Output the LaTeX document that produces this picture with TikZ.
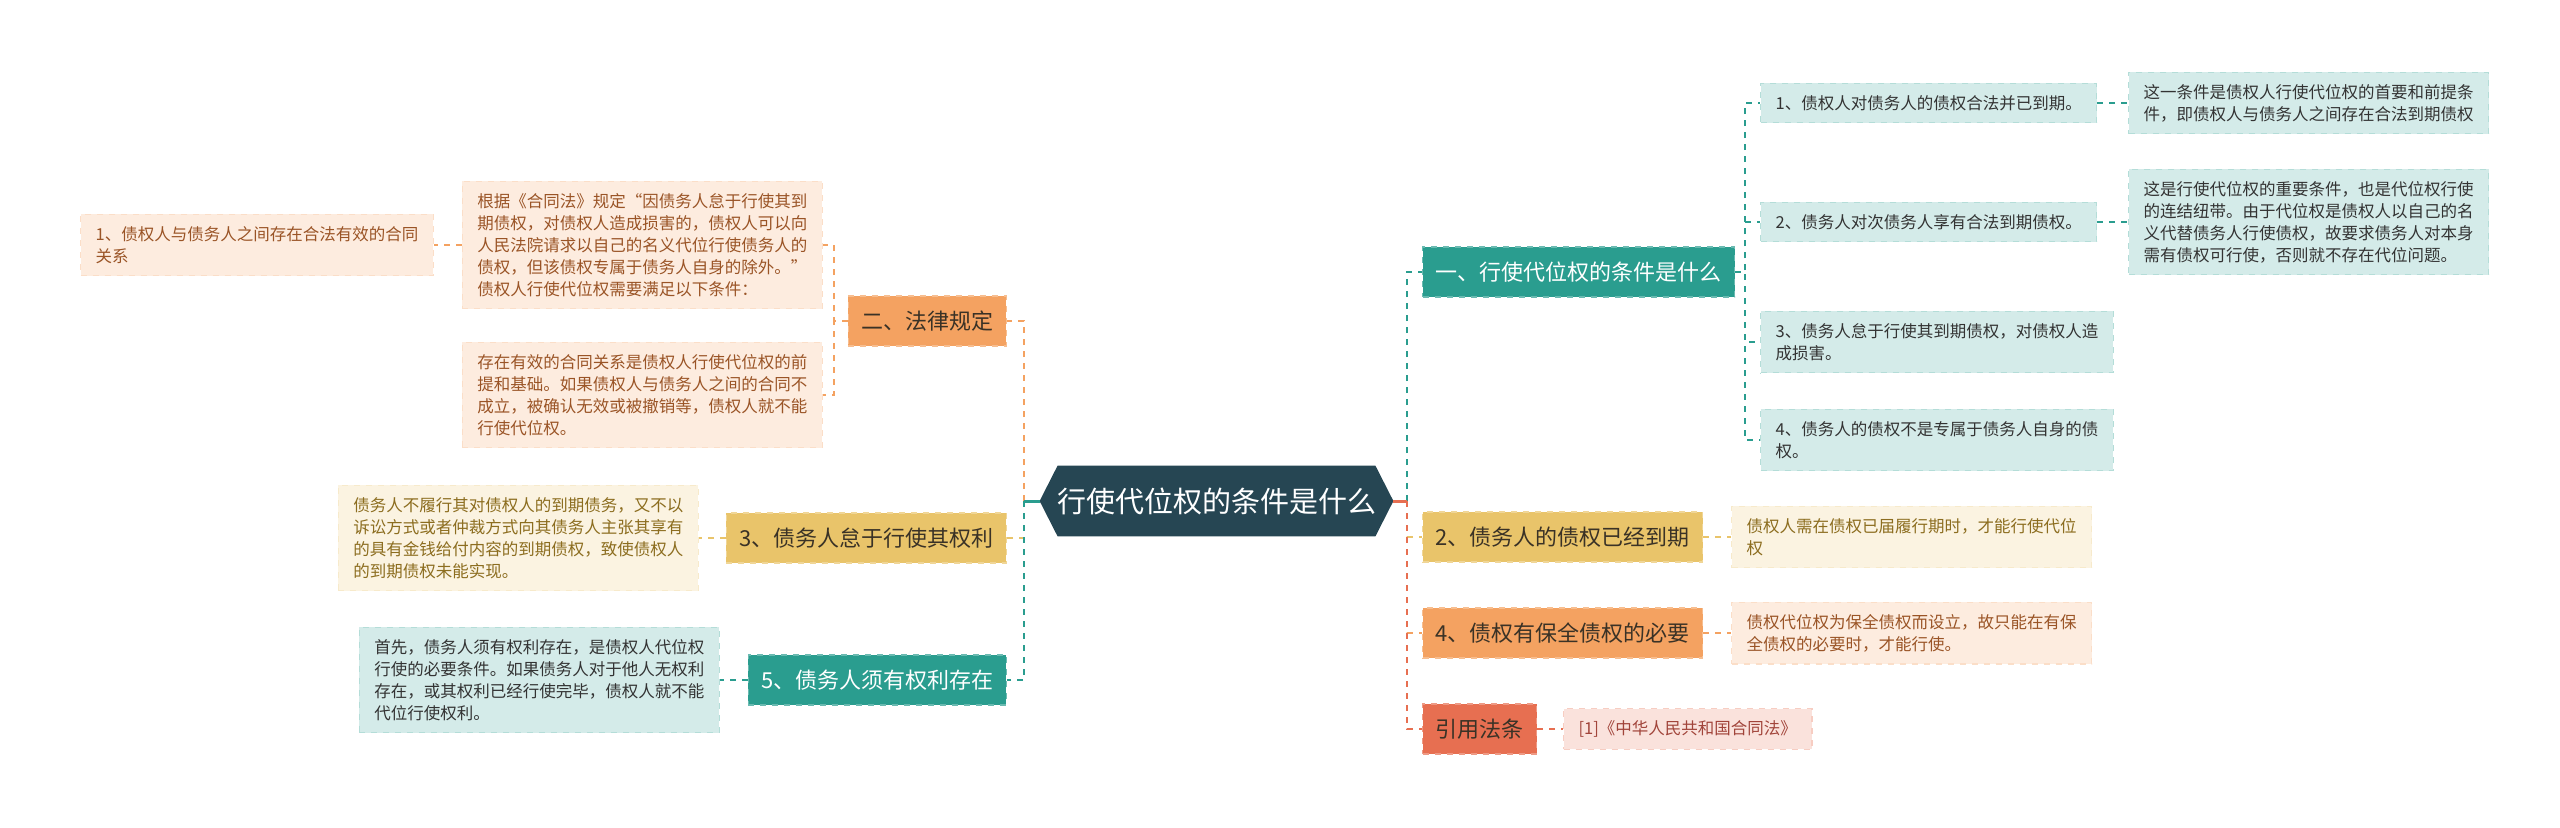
\documentclass[tikz,border=0pt]{standalone}
\usepackage{fontspec}
\setmainfont{Noto Sans CJK SC}
\usetikzlibrary{backgrounds}

\begin{document}
\begin{tikzpicture}[x=0.5pt, y=-0.5pt,
    rootNode/.style={text=white, minimum width=176.5pt, minimum height=35pt, inner sep=0pt, font=\fontsize{14.5pt}{17pt}\selectfont},
    branchNode/.style 2 args={fill=#1, draw=#1!70!white, dashed, line width=0.6pt, text=#2, minimum height=25pt, inner xsep=6.5pt, inner ysep=0pt, font=\fontsize{11pt}{13pt}\selectfont},
    leafNode/.style 2 args={fill=#1!20!white, draw=#1!35!white, dashed, line width=0.6pt, text=#2, align=left, inner xsep=7.5pt, inner ysep=6pt, font=\fontsize{8.25pt}{11pt}\selectfont},
    link/.style={dash pattern=on 3pt off 3pt, line width=1pt}]

    \definecolor{rootColour}{HTML}{264653}
    \definecolor{tealColour}{HTML}{2A9D8F}
    \definecolor{yellowColour}{HTML}{E9C46A}
    \definecolor{orangeColour}{HTML}{F4A261}
    \definecolor{redColour}{HTML}{E76F51}
    \definecolor{darkText}{HTML}{3A3226}
    \definecolor{greyText}{HTML}{333333}
    \definecolor{yellowText}{HTML}{8C6D1F}
    \definecolor{orangeText}{HTML}{9A5426}
    \definecolor{redText}{HTML}{A1443A}

    \useasboundingbox (0,0) rectangle (2560,827);

    % Draw the root
    \node[rootNode] (root) at (1216.5,501) {行使代位权的条件是什么};
    \begin{scope}[on background layer]
        \fill[rootColour] ([xshift=9pt]root.north west) -- ([xshift=-9pt]root.north east) -- (root.east)
            -- ([xshift=-9pt]root.south east) -- ([xshift=9pt]root.south west) -- (root.west) -- cycle;
    \end{scope}

    % Right branches
    \node[branchNode={tealColour}{white}, anchor=west] (rightOne) at (1422,272) {一、行使代位权的条件是什么};
    \node[branchNode={yellowColour}{darkText}, anchor=west] (rightTwo) at (1422,537) {2、债务人的债权已经到期};
    \node[branchNode={orangeColour}{darkText}, anchor=west] (rightFour) at (1422,633) {4、债权有保全债权的必要};
    \node[branchNode={redColour}{darkText}, anchor=west] (rightLaw) at (1422,729) {引用法条};

    % Left branches
    \node[branchNode={orangeColour}{darkText}, anchor=east] (leftLaw) at (1007,321) {二、法律规定};
    \node[branchNode={yellowColour}{darkText}, anchor=east] (leftThree) at (1007,538) {3、债务人怠于行使其权利};
    \node[branchNode={tealColour}{white}, anchor=east] (leftFive) at (1007,680) {5、债务人须有权利存在};

    % Leaves of the first right branch
    \node[leafNode={tealColour}{greyText}, anchor=west] (rightOneA) at (1760,103) {1、债权人对债务人的债权合法并已到期。};
    \node[leafNode={tealColour}{greyText}, anchor=west] (rightOneB) at (1760,222) {2、债务人对次债务人享有合法到期债权。};
    \node[leafNode={tealColour}{greyText}, anchor=west] (rightOneC) at (1760,342) {3、债务人怠于行使其到期债权，对债权人造\\成损害。};
    \node[leafNode={tealColour}{greyText}, anchor=west] (rightOneD) at (1760,440) {4、债务人的债权不是专属于债务人自身的债\\权。};
    \node[leafNode={tealColour}{greyText}, anchor=west] (noteOneA) at (2128,103) {这一条件是债权人行使代位权的首要和前提条\\件，即债权人与债务人之间存在合法到期债权};
    \node[leafNode={tealColour}{greyText}, anchor=west] (noteOneB) at (2128,222) {这是行使代位权的重要条件，也是代位权行使\\的连结纽带。由于代位权是债权人以自己的名\\义代替债务人行使债权，故要求债务人对本身\\需有债权可行使，否则就不存在代位问题。};

    % Leaves of the other right branches
    \node[leafNode={yellowColour}{yellowText}, anchor=west] (noteTwo) at (1731,537) {债权人需在债权已届履行期时，才能行使代位\\权};
    \node[leafNode={orangeColour}{orangeText}, anchor=west] (noteFour) at (1731,633) {债权代位权为保全债权而设立，故只能在有保\\全债权的必要时，才能行使。};
    \node[leafNode={redColour}{redText}, anchor=west] (noteLaw) at (1563,729) {[1]《中华人民共和国合同法》};

    % Leaves of the left branches
    \node[leafNode={orangeColour}{orangeText}, anchor=east] (lawA) at (823,245) {根据《合同法》规定“因债务人怠于行使其到\\期债权，对债权人造成损害的，债权人可以向\\人民法院请求以自己的名义代位行使债务人的\\债权，但该债权专属于债务人自身的除外。”\\债权人行使代位权需要满足以下条件：};
    \node[leafNode={orangeColour}{orangeText}, anchor=east] (lawB) at (823,395) {存在有效的合同关系是债权人行使代位权的前\\提和基础。如果债权人与债务人之间的合同不\\成立，被确认无效或被撤销等，债权人就不能\\行使代位权。};
    \node[leafNode={orangeColour}{orangeText}, anchor=east] (lawC) at (434,245) {1、债权人与债务人之间存在合法有效的合同\\关系};
    \node[leafNode={yellowColour}{yellowText}, anchor=east] (noteThree) at (699,538) {债务人不履行其对债权人的到期债务，又不以\\诉讼方式或者仲裁方式向其债务人主张其享有\\的具有金钱给付内容的到期债权，致使债权人\\的到期债权未能实现。};
    \node[leafNode={tealColour}{greyText}, anchor=east] (noteFive) at (720,680) {首先，债务人须有权利存在，是债权人代位权\\行使的必要条件。如果债务人对于他人无权利\\存在，或其权利已经行使完毕，债权人就不能\\代位行使权利。};

    % Connect the root to its branches
    \coordinate (rightJoin) at (1407,501);
    \coordinate (leftJoin) at (1024,501);
    \foreach \target/\col in {rightOne/tealColour, rightTwo/yellowColour, rightFour/orangeColour, rightLaw/redColour}
        \draw[link, \col] (rightJoin) |- (\target.west);
    \foreach \target/\col in {leftLaw/orangeColour, leftThree/yellowColour, leftFive/tealColour}
        \draw[link, \col] (leftJoin) |- (\target.east);
    \draw[line width=1.5pt, redColour] (root.east) -- (rightJoin);
    \draw[line width=1.5pt, tealColour] (root.west) -- (leftJoin);

    % Connect the branches to their leaves
    \foreach \leaf in {rightOneA, rightOneB, rightOneC, rightOneD}
        \draw[link, tealColour] (rightOne.east) -- ++(10,0) |- (\leaf.west);
    \draw[link, tealColour] (rightOneA.east) -- (noteOneA.west);
    \draw[link, tealColour] (rightOneB.east) -- (noteOneB.west);
    \draw[link, yellowColour] (rightTwo.east) -- (noteTwo.west);
    \draw[link, orangeColour] (rightFour.east) -- (noteFour.west);
    \draw[link, redColour] (rightLaw.east) -- (noteLaw.west);
    \foreach \leaf in {lawA, lawB}
        \draw[link, orangeColour] (leftLaw.west) -- ++(-14,0) |- (\leaf.east);
    \draw[link, orangeColour] (lawA.west) -- (lawC.east);
    \draw[link, yellowColour] (leftThree.west) -- (noteThree.east);
    \draw[link, tealColour] (leftFive.west) -- (noteFive.east);

\end{tikzpicture}
\end{document}
